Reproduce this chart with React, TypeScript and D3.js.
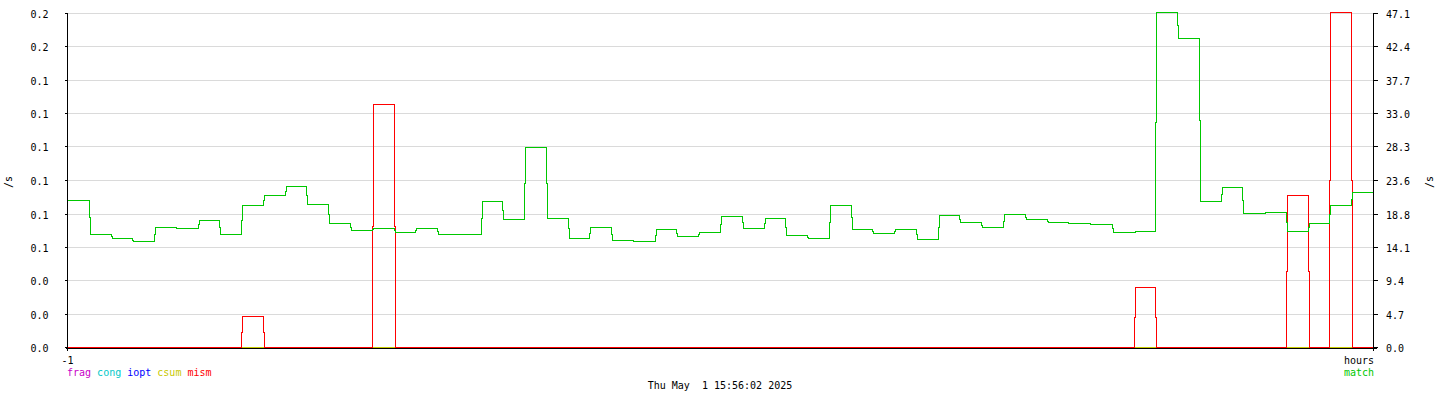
import React from "react";
import * as d3 from "d3";

// one sample per minute over the last hour (60 samples)
const matchValues: number[] = [
  20.77, 15.89, 15.42, 14.9, 16.97, 16.83, 17.95, 15.99, 20.06, 21.37,
  22.73, 20.2, 17.53, 16.45, 16.73, 16.27, 16.73, 15.99, 15.89, 20.63,
  18.0, 28.22, 18.14, 15.33, 16.97, 15.14, 15.0, 16.69, 15.7, 16.17,
  18.42, 16.83, 18.24, 15.75, 15.42, 19.97, 16.69, 16.03, 16.69, 15.28,
  18.56, 17.67, 16.97, 18.7, 18.1, 17.67, 17.53, 17.39, 16.17, 16.31,
  47.2, 43.54, 20.53, 22.59, 18.84, 18.98, 16.31, 17.43, 20.06, 21.89,
];

const mismValues: number[] = [
  0, 0, 0, 0, 0, 0, 0, 0, 4.36, 0,
  0, 0, 0, 0, 34.26, 0, 0, 0, 0, 0,
  0, 0, 0, 0, 0, 0, 0, 0, 0, 0,
  0, 0, 0, 0, 0, 0, 0, 0, 0, 0,
  0, 0, 0, 0, 0, 0, 0, 0, 0, 8.53,
  0, 0, 0, 0, 0, 0, 21.47, 0, 47.2, 0,
];

const zeroValues: number[] = new Array(60).fill(0);

const rightTicks: number[] = [0.0, 4.7, 9.4, 14.1, 18.8, 23.6, 28.3, 33.0, 37.7, 42.4, 47.1];
const leftTickLabels: string[] = ["0.0", "0.0", "0.0", "0.1", "0.1", "0.1", "0.1", "0.1", "0.1", "0.2", "0.2"];

const legendLeft = [
  { name: "frag", color: "#c800c8" },
  { name: "cong", color: "#00c8c8" },
  { name: "iopt", color: "#0000ff" },
  { name: "csum", color: "#c8c800" },
  { name: "mism", color: "#ff0000" },
];
const legendRight = { name: "match", color: "#00c800" };
const dateLabel = "Thu May  1 15:56:02 2025";

const W = 1440;
const H = 400;
const X0 = 67.5;
const X1 = 1373.5;
const Y0 = 347.5;
const Y1 = 13.5;
const FONT = "'DejaVu Sans Mono', monospace";

export default function App() {
  const x = d3.scaleLinear().domain([0, 60]).range([X0, X1]);
  const y = d3.scaleLinear().domain([0, 47.1]).range([Y0, Y1]);
  const snapY = (v: number) => Math.round(y(v) - 0.5) + 0.5;
  const snapX = (i: number) => Math.round(x(i) - 0.5) + 0.5;

  const line = d3
    .line<[number, number]>()
    .x((d) => d[0])
    .y((d) => d[1]);

  // step line whose vertical edges are split over two pixel columns
  const stepPath = (vals: number[]): string => {
    const pts: [number, number][] = [];
    pts.push([snapX(0), snapY(vals[0])]);
    for (let i = 1; i < vals.length; i++) {
      const xk = snapX(i);
      const ya = snapY(vals[i - 1]);
      const yb = snapY(vals[i]);
      if (ya === yb) continue;
      const ym = Math.round((ya + yb) / 2 - 0.5) + 0.5;
      pts.push([xk, ya]);
      pts.push([xk, ym]);
      pts.push([xk + 1, ym]);
      pts.push([xk + 1, yb]);
    }
    pts.push([snapX(vals.length), snapY(vals[vals.length - 1])]);
    return line(pts) || "";
  };

  return (
    <svg
      width={W}
      height={H}
      style={{ position: "absolute", left: 0, top: 0, background: "#fff" }}
      fontFamily={FONT}
      fontSize={10}
    >
      <rect x={0} y={0} width={W} height={H} fill="#fff" />
      {/* grid */}
      {rightTicks.map((t, i) => (
        <line
          key={"g" + i}
          x1={X0}
          x2={X1}
          y1={snapY(t)}
          y2={snapY(t)}
          stroke="#dadada"
          strokeWidth={1}
          shapeRendering="crispEdges"
        />
      ))}
      {/* series */}
      {legendLeft.slice(0, 4).map((l) => (
        <path
          key={"z" + l.name}
          d={stepPath(zeroValues)}
          fill="none"
          stroke={l.color}
          strokeWidth={1}
          shapeRendering="crispEdges"
        />
      ))}
      <path d={stepPath(mismValues)} fill="none" stroke="#ff0000" strokeWidth={1} shapeRendering="crispEdges" />
      <path d={stepPath(matchValues)} fill="none" stroke="#00c800" strokeWidth={1} shapeRendering="crispEdges" />
      {/* axes */}
      <line x1={X0} x2={X0} y1={Y1 - 1} y2={Y0 + 3} stroke="#000" shapeRendering="crispEdges" />
      <line x1={X1} x2={X1} y1={Y1 - 1} y2={Y0 + 3} stroke="#000" shapeRendering="crispEdges" />
      <line x1={X0 - 2} x2={X1 + 3} y1={Y0 + 1} y2={Y0 + 1} stroke="#000" shapeRendering="crispEdges" />
      {rightTicks.map((t, i) => (
        <g key={"t" + i}>
          <line x1={X0 - 3} x2={X0} y1={snapY(t)} y2={snapY(t)} stroke="#000" shapeRendering="crispEdges" />
          <line x1={X1} x2={X1 + 4} y1={snapY(t)} y2={snapY(t)} stroke="#000" shapeRendering="crispEdges" />
          <text x={48.5} y={snapY(t) + 4} textAnchor="end" fill="#000">
            {leftTickLabels[i]}
          </text>
          <text x={1386} y={snapY(t) + 4} textAnchor="start" fill="#000">
            {t.toFixed(1)}
          </text>
        </g>
      ))}
      {/* unit labels */}
      <text transform="translate(11.5,182) rotate(-90)" textAnchor="middle" fill="#000">
        /s
      </text>
      <text transform="translate(1433,182) rotate(-90)" textAnchor="middle" fill="#000">
        /s
      </text>
      {/* x axis labels */}
      <text x={x(0)} y={363.5} textAnchor="middle" fill="#000">
        -1
      </text>
      <text x={X1 + 0.5} y={363.5} textAnchor="end" fill="#000">
        hours
      </text>
      {/* legend */}
      <text x={67} y={376} style={{ whiteSpace: "pre" }}>
        {legendLeft.map((l, i) => (
          <tspan key={l.name} fill={l.color}>
            {(i > 0 ? " " : "") + l.name}
          </tspan>
        ))}
      </text>
      <text x={X1 + 0.5} y={376} textAnchor="end" fill={legendRight.color}>
        {legendRight.name}
      </text>
      <text x={720} y={389} textAnchor="middle" fill="#000" style={{ whiteSpace: "pre" }}>
        {dateLabel}
      </text>
    </svg>
  );
}
